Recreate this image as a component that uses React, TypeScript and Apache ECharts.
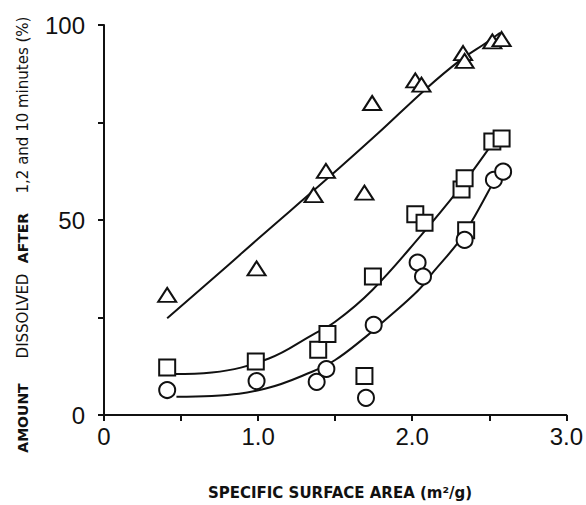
import React, { useEffect, useRef } from 'react';
import * as echarts from 'echarts';

// Measured points (x = specific surface area m²/g, y = amount dissolved %)
const triangleData: [number, number][] = [
  [0.41, 30.8], [0.99, 37.6], [1.36, 56.4], [1.44, 62.6], [1.69, 57.0], [1.74, 80.0],
  [2.02, 85.8], [2.06, 84.7], [2.33, 92.8], [2.34, 90.8], [2.52, 95.8], [2.58, 96.4],
];
const squareData: [number, number][] = [
  [0.41, 12.2], [0.985, 13.7], [1.39, 16.7], [1.45, 20.8], [1.69, 10.0], [1.745, 35.5],
  [2.02, 51.5], [2.08, 49.3], [2.32, 57.8], [2.34, 60.7], [2.35, 47.4], [2.52, 70.1], [2.58, 70.9],
];
const circleData: [number, number][] = [
  [0.41, 6.4], [0.99, 8.7], [1.38, 8.5], [1.443, 11.8], [1.70, 4.4], [1.75, 23.1],
  [2.035, 39.1], [2.07, 35.5], [2.34, 44.9], [2.53, 60.3], [2.59, 62.4],
];

// Hand-drawn fitted curves
const triangleCurve: [number, number][] = [
  [0.41, 24.8], [0.8, 38.2], [1.0, 45.2], [1.44, 60.3], [1.78, 72.3], [2.08, 83.3],
  [2.30, 90.6], [2.49, 95.7], [2.57, 98.0],
];
const squareCurve: [number, number][] = [
  [0.45, 10.5], [0.7, 10.9], [1.07, 14.5], [1.35, 20.5], [1.5, 23.9], [1.74, 32.0],
  [2.06, 46.2], [2.3, 57.7], [2.49, 67.9], [2.54, 71.0],
];
const circleCurve: [number, number][] = [
  [0.47, 4.7], [0.7, 4.9], [1.05, 6.8], [1.35, 11.1], [1.5, 14.1], [1.7, 20.1], [1.8, 23.5],
  [2.04, 32.0], [2.14, 36.8], [2.3, 44.3], [2.38, 49.2], [2.51, 58.5], [2.54, 61.0],
];

const xTitle = 'SPECIFIC SURFACE AREA (m²/g)';
const yTitleParts = ['AMOUNT', 'DISSOLVED', 'AFTER', '1,2 and 10 minutes (%)'];

const INK = '#111';

export default function App() {
  const ref = useRef<HTMLDivElement>(null);
  useEffect(() => {
    document.body.style.margin = '0';
    const chart = echarts.init(ref.current!, null, { renderer: 'svg' });
    const lineSeries = (data: [number, number][]) => ({
      type: 'line',
      data,
      smooth: 0.4,
      symbol: 'none',
      lineStyle: { color: INK, width: 2 },
      z: 2,
      silent: true,
    });
    const scatterSeries = (data: [number, number][], symbol: string, size: any) => ({
      type: 'scatter',
      data,
      symbol,
      symbolSize: size,
      itemStyle: { color: '#fff', borderColor: INK, borderWidth: 2, opacity: 1 },
      z: 3,
    });
    const vText = (text: string, y: number, bold: boolean, size: number) => ({
      type: 'text',
      x: 23,
      y,
      rotation: Math.PI / 2,
      style: {
        text,
        font: `${bold ? 'bold ' : ''}${size}px "DejaVu Sans"`,
        fill: INK,
        textAlign: 'center',
        textVerticalAlign: 'middle',
        align: 'center',
        verticalAlign: 'middle',
      },
    });
    chart.setOption({
      animation: false,
      backgroundColor: '#fff',
      grid: { left: 104, right: 17, top: 25, bottom: 90, containLabel: false },
      xAxis: {
        type: 'value',
        min: 0,
        max: 3,
        interval: 0.5,
        axisLine: { show: true, lineStyle: { color: INK, width: 2 } },
        axisTick: { show: true, length: 6, lineStyle: { color: INK, width: 2 } },
        splitLine: { show: false },
        axisLabel: {
          margin: 9,
          fontFamily: '"Liberation Sans"',
          fontSize: 24,
          color: INK,
          formatter: (v: number) => (v === 0 ? '0' : v % 1 === 0 ? v.toFixed(1) : ''),
        },
      },
      yAxis: {
        type: 'value',
        min: 0,
        max: 100,
        interval: 25,
        axisLine: { show: true, lineStyle: { color: INK, width: 2 } },
        axisTick: { show: true, length: 6, lineStyle: { color: INK, width: 2 } },
        splitLine: { show: false },
        axisLabel: {
          margin: 19,
          fontFamily: '"Liberation Sans"',
          fontSize: 24,
          color: INK,
          formatter: (v: number) => (v % 50 === 0 ? String(v) : ''),
        },
      },
      graphic: [
        vText(yTitleParts[0], 418, true, 14),
        vText(yTitleParts[1], 316, false, 15),
        vText(yTitleParts[2], 238, true, 14),
        vText(yTitleParts[3], 105, false, 15),
        {
          type: 'text',
          x: 340,
          y: 493,
          style: {
            text: xTitle,
            font: 'bold 15px "DejaVu Sans"',
            fill: INK,
            textAlign: 'center',
            textVerticalAlign: 'middle',
            align: 'center',
            verticalAlign: 'middle',
          },
        },
      ],
      series: [
        lineSeries(triangleCurve),
        lineSeries(squareCurve),
        lineSeries(circleCurve),
        scatterSeries(squareData, 'rect', 16),
        scatterSeries(circleData, 'circle', 16),
        scatterSeries(triangleData, 'triangle', [18, 14]),
      ],
    });
    return () => chart.dispose();
  }, []);
  return <div ref={ref} style={{ width: 586, height: 505 }} />;
}
